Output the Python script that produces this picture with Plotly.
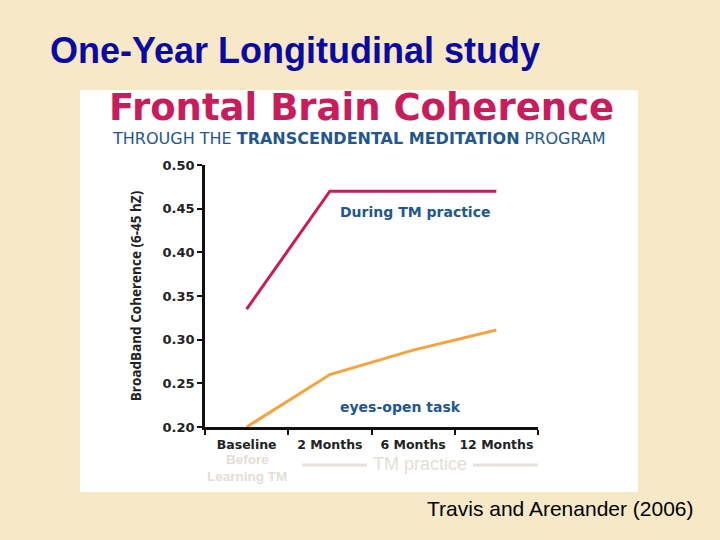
import plotly.graph_objects as go

categories = ["Baseline", "2 Months", "6 Months", "12 Months"]
during_tm = [0.335, 0.470, 0.470, 0.470]
eyes_open = [0.200, 0.260, 0.288, 0.311]
y_ticks = [0.20, 0.25, 0.30, 0.35, 0.40, 0.45, 0.50]
y_labels = ["0.20", "0.25", "0.30", "0.35", "0.40", "0.45", "0.50"]

W, H = 720, 540
L, R, T, B = 205, 538, 165, 427
PINK = "#c81d5c"
ORANGE = "#f6a23f"
BLUE = "#23568f"

fig = go.Figure()
fig.add_trace(go.Scatter(x=categories, y=during_tm, mode="lines",
                         line=dict(color=PINK, width=3), showlegend=False, hoverinfo="skip"))
fig.add_trace(go.Scatter(x=categories, y=eyes_open, mode="lines",
                         line=dict(color=ORANGE, width=3), showlegend=False, hoverinfo="skip"))

def px(x): return (x - L) / (R - L)
def py(y): return (B - y) / (B - T)

shapes = [
    dict(type="rect", xref="paper", yref="paper", x0=px(80), x1=px(638), y0=py(492), y1=py(90),
         fillcolor="white", line=dict(width=0), layer="below"),
    dict(type="line", xref="paper", yref="paper", x0=px(302), x1=px(367), y0=py(465), y1=py(465),
         line=dict(color="#e6e2da", width=3)),
    dict(type="line", xref="paper", yref="paper", x0=px(473), x1=px(538), y0=py(465), y1=py(465),
         line=dict(color="#e6e2da", width=3)),
]

def ann(text, x, y, size, color, family="Open Sans", weight="normal", xanchor="center"):
    return dict(text=text, xref="paper", yref="paper", x=px(x), y=py(y), xanchor=xanchor,
                yanchor="middle", showarrow=False,
                font=dict(size=size, color=color, family=family, weight=weight))

annotations = [
    ann("One-Year Longitudinal study", 48, 50, 36, "#0a0aa0", "Liberation Sans", "bold", "left"),
    ann("Frontal Brain Coherence", 361, 108, 37, PINK, "DejaVu Sans", "bold"),
    ann("THROUGH THE <b>TRANSCENDENTAL MEDITATION</b> PROGRAM", 359, 138, 16, BLUE, "DejaVu Sans"),
    ann("During TM practice", 338, 212, 14, BLUE, "DejaVu Sans", "bold", "left"),
    ann("eyes-open task", 338, 407, 14, BLUE, "DejaVu Sans", "bold", "left"),
    ann("Before", 247, 459, 13.5, "#e2ded6", "Liberation Sans", "bold"),
    ann("Learning TM", 247, 476, 13.5, "#e2ded6", "Liberation Sans", "bold"),
    ann("TM practice", 420, 464, 18, "#e2ded6", "Liberation Sans"),
    ann("Travis and Arenander (2006)", 696, 508, 21, "black", "Liberation Sans", "normal", "right"),
]

fig.update_layout(
    width=W, height=H,
    margin=dict(l=L, r=W - R, t=T, b=H - B),
    paper_bgcolor="#f7e9c8", plot_bgcolor="white",
    shapes=shapes, annotations=annotations,
    xaxis=dict(type="category", range=[-0.5, 3.5], tickson="boundaries",
               ticks="outside", ticklen=5, tickwidth=2, tickcolor="#111",
               showline=True, linecolor="#111", linewidth=2.5, showgrid=False, zeroline=False,
               ticklabelstandoff=4, tickangle=0,
               tickfont=dict(family="DejaVu Sans", size=12.5, color="#222", weight="bold")),
    yaxis=dict(range=[0.20, 0.50], tickvals=y_ticks, ticktext=y_labels,
               ticks="outside", ticklen=5, tickwidth=2, tickcolor="#111",
               showline=True, linecolor="#111", linewidth=2.5, showgrid=False, zeroline=False,
               tickfont=dict(family="DejaVu Sans", size=13, color="#222", weight="bold"),
               title=dict(text="BroadBand Coherence (6-45 hZ)", standoff=18,
                          font=dict(family="Open Sans", size=13.5, color="#222", weight="bold"))),
)

fig.write_html("out.html")
